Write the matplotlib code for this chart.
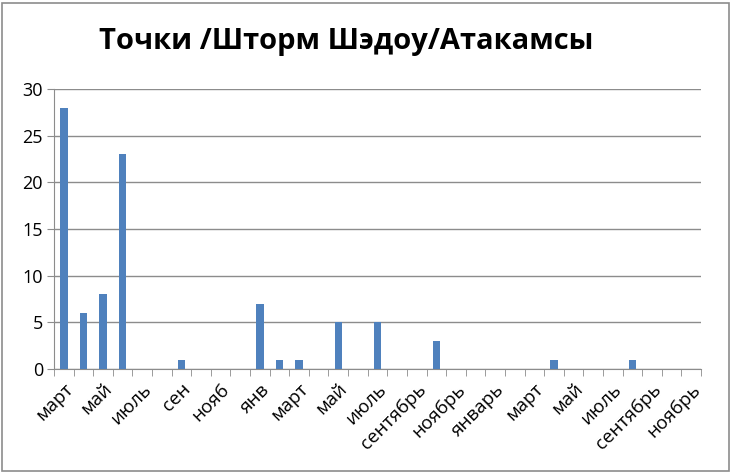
import matplotlib
matplotlib.use("Agg")
import matplotlib.pyplot as plt
from matplotlib.patches import Rectangle

months = ["март", "апр", "май", "июнь", "июль", "авг", "сен", "окт", "нояб", "дек",
          "янв", "фев", "март", "апр", "май", "июнь", "июль", "авг", "сентябрь", "октябрь", "ноябрь", "декабрь",
          "январь", "февраль", "март", "апрель", "май", "июнь", "июль", "август", "сентябрь", "октябрь", "ноябрь"]
values = [28, 6, 8, 23, 0, 0, 1, 0, 0, 0,
          7, 1, 1, 0, 5, 0, 5, 0, 0, 3, 0, 0,
          0, 0, 0, 1, 0, 0, 0, 1, 0, 0, 0]
title = "Точки /Шторм Шэдоу/Атакамсы"
yticks = [0, 5, 10, 15, 20, 25, 30]

plt.rcParams['font.family'] = ['Open Sans', 'DejaVu Sans']

W, H = 733, 472
fig = plt.figure(figsize=(W / 100, H / 100), dpi=100)
ax = fig.add_axes([54 / W, 1 - 369 / H, (701 - 54) / W, (369 - 89) / H])

n = len(months)
x = list(range(n))
ax.bar(x, values, width=0.38, color="#4F81BD", zorder=3)
ax.set_xlim(-0.5, n - 0.5)
ax.set_ylim(0, 30)
ax.set_yticks(yticks)
ax.set_yticklabels([str(v) for v in yticks], fontsize=13)
ax.yaxis.grid(True, color="#8C8C8C", linewidth=1, zorder=0)
ax.tick_params(axis='y', length=5, color="#8C8C8C", pad=3)

# minor ticks at category boundaries, labels every other category
ax.set_xticks([i - 0.5 for i in range(n + 1)], minor=True)
ax.set_xticks(x[::2])
ax.set_xticklabels(months[::2], rotation=45, ha='right', rotation_mode='anchor', fontsize=13.5)
ax.tick_params(axis='x', which='major', length=0, pad=8)
ax.tick_params(axis='x', which='minor', length=5, color="#8C8C8C")

for s in ["top", "right"]:
    ax.spines[s].set_visible(False)
ax.spines["left"].set_color("#8C8C8C")
ax.spines["bottom"].set_color("#8C8C8C")

fig.text(346 / W, 1 - 42 / H, title, ha='center', va='center', fontsize=21, fontweight='bold')

fig.patches.append(Rectangle((1.5 / W, 1.5 / H), (729 - 1.5) / W, (469 - 1.5) / H,
                             transform=fig.transFigure, fill=False, edgecolor="#8C8C8C", linewidth=1.2))

fig.savefig("out.png", dpi=100)
